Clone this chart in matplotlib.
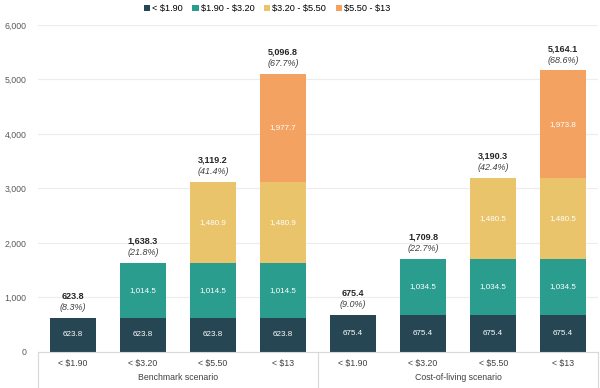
import numpy as np
import matplotlib.pyplot as plt
from matplotlib.lines import Line2D

plt.rcParams['font.family'] = ['Liberation Sans', 'DejaVu Sans']

# data
groups = ['Benchmark scenario', 'Cost-of-living scenario']
categories = ['< $1.90', '< $3.20', '< $5.50', '< $13'] * 2
series = ['< $1.90', '$1.90 - $3.20', '$3.20 - $5.50', '$5.50 - $13']
seg_190 = [623.8, 623.8, 623.8, 623.8, 675.4, 675.4, 675.4, 675.4]
seg_320 = [0, 1014.5, 1014.5, 1014.5, 0, 1034.5, 1034.5, 1034.5]
seg_550 = [0, 0, 1480.9, 1480.9, 0, 0, 1480.5, 1480.5]
seg_13 = [0, 0, 0, 1977.7, 0, 0, 0, 1973.8]
totals = [623.8, 1638.3, 3119.2, 5096.8, 675.4, 1709.8, 3190.3, 5164.1]
shares = [8.3, 21.8, 41.4, 67.7, 9.0, 22.7, 42.4, 68.6]

colors = ['#264653', '#2a9d8f', '#e9c46a', '#f4a261']

fig = plt.figure(figsize=(6, 3.88), dpi=100)
ax = fig.add_axes([0.063, 0.093, 0.934, 0.843])

x = np.arange(len(categories))
width = 0.66
bottom = np.zeros(len(categories))
for name, vals, col in zip(series, [seg_190, seg_320, seg_550, seg_13], colors):
    vals = np.array(vals)
    # escape $ so the legend does not switch to mathtext
    ax.bar(x, vals, width, bottom=bottom, color=col, label=name.replace('$', r'\$'), zorder=2)
    for xi, b, v in zip(x, bottom, vals):
        if v > 0:
            ax.text(xi, b + v / 2, f'{v:,.1f}', ha='center', va='center',
                    color='white', fontsize=5.8, zorder=3)
    bottom += vals

for xi, t, s in zip(x, totals, shares):
    ax.text(xi, t + 190, f'({s:.1f}%)', ha='center', va='center',
            fontsize=6.5, style='italic', color='#404040')
    ax.text(xi, t + 400, f'{t:,.1f}', ha='center', va='center',
            fontsize=6.5, fontweight='bold', color='#262626')

ax.set_ylim(0, 6000)
ax.set_xlim(-0.5, len(categories) - 0.5)
ax.set_yticks(range(0, 6001, 1000))
ax.set_yticklabels([f'{v:,}' for v in range(0, 6001, 1000)])
ax.yaxis.grid(True, color='#ececec', lw=0.8, zorder=0)
ax.tick_params(axis='y', length=0, labelsize=6.3, labelcolor='#595959', pad=8)
ax.set_xticks(x)
ax.set_xticklabels(categories)
ax.tick_params(axis='x', length=0, labelsize=6.3, labelcolor='#404040', pad=5)
for sp in ['top', 'right', 'left']:
    ax.spines[sp].set_visible(False)
ax.spines['bottom'].set_color('#d9d9d9')
ax.spines['bottom'].set_linewidth(0.8)

# group labels and separators below the axis
trans = ax.get_xaxis_transform()
for i, g in enumerate(groups):
    ax.text(i * 4 + 1.5, -0.078, g, transform=trans, ha='center', va='center',
            fontsize=6.3, color='#404040')
for xs in [-0.5, 3.5, 7.5]:
    ax.add_line(Line2D([xs, xs], [0, -0.11], transform=trans, color='#d9d9d9',
                       lw=0.8, clip_on=False))

fig.legend(loc='center', bbox_to_anchor=(0.445, 0.978), ncol=4, frameon=False,
           fontsize=6.6, handlelength=0.7, handleheight=0.7, handletextpad=0.25,
           columnspacing=1.0, borderaxespad=0, borderpad=0)

fig.savefig('out.png', dpi=100)
